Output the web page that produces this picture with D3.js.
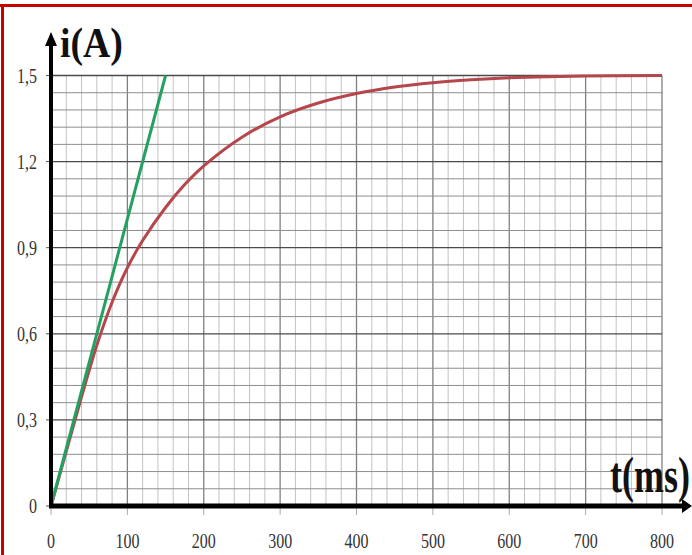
<!DOCTYPE html>
<html>
<head>
<meta charset="utf-8">
<script src="https://cdn.jsdelivr.net/npm/d3@7"></script>
<style>
  body { margin: 0; background: #fff; }
  svg { display: block; }
</style>
</head>
<body>
<div id="chart"></div>
<script>
// values
const timeMs = [0, 20, 40, 60, 80, 100, 120, 150, 175, 200, 250, 300, 350, 400, 450, 500, 550, 600, 650, 700, 800];
const current = [0, 0.19, 0.38, 0.56, 0.71, 0.83, 0.925, 1.04, 1.12, 1.185, 1.285, 1.356, 1.404, 1.437, 1.46, 1.475, 1.485, 1.492, 1.496, 1.498, 1.5];
const tangentTime = [0, 150];
const tangentCurrent = [0, 1.5];
const xTicks = [0, 100, 200, 300, 400, 500, 600, 700, 800];
const yTicks = [0, 0.3, 0.6, 0.9, 1.2, 1.5];
const yTickLabels = ["0", "0,3", "0,6", "0,9", "1,2", "1,5"];

const width = 692, height = 555;

const svg = d3.select("#chart")
    .append("svg")
    .attr("width", width)
    .attr("height", height);

const x = d3.scaleLinear().domain([0, 800]).range([51, 662]);
const y = d3.scaleLinear().domain([0, 1.5]).range([506, 75.5]);

// grid: minor every 20 ms / 0.06 A, major every 100 ms / 0.3 A
const grid = svg.append("g");
d3.range(0, 801, 20).forEach(t => {
    const major = t % 100 === 0;
    grid.append("line")
        .attr("x1", x(t)).attr("x2", x(t))
        .attr("y1", y(0)).attr("y2", y(1.5))
        .style("stroke", major ? "#808080" : "#c2c2c2")
        .style("stroke-width", major ? 1.3 : 1);
});
d3.range(0, 26).forEach(k => {
    const v = k * 0.06;
    const major = k % 5 === 0;
    grid.append("line")
        .attr("x1", x(0)).attr("x2", x(800))
        .attr("y1", y(v)).attr("y2", y(v))
        .style("stroke", major ? "#4a4a4a" : "#8e8e8e")
        .style("stroke-width", major ? 1.3 : 1);
});

// small ticks below the time axis and left of the current axis
svg.append("g").selectAll("line")
    .data(xTicks)
    .enter()
    .append("line")
    .attr("x1", d => x(d)).attr("x2", d => x(d))
    .attr("y1", y(0)).attr("y2", y(0) + 9)
    .style("stroke", "#aaa");
svg.append("g").selectAll("line")
    .data(yTicks)
    .enter()
    .append("line")
    .attr("x1", x(0) - 5).attr("x2", x(0))
    .attr("y1", d => y(d)).attr("y2", d => y(d))
    .style("stroke", "#555");

// curves
svg.append("path")
    .datum(timeMs.map((t, i) => [t, current[i]]))
    .attr("d", d3.line()
        .x(d => x(d[0]))
        .y(d => y(d[1]))
        .curve(d3.curveCatmullRom.alpha(0.5)))
    .style("fill", "none")
    .style("stroke", "#b5464b")
    .style("stroke-width", 3);

svg.append("path")
    .datum(tangentTime.map((t, i) => [t, tangentCurrent[i]]))
    .attr("d", d3.line().x(d => x(d[0])).y(d => y(d[1])))
    .style("fill", "none")
    .style("stroke", "#23a062")
    .style("stroke-width", 3);

// axes with arrows
svg.append("line")
    .attr("x1", x(0) - 2).attr("x2", 682)
    .attr("y1", y(0)).attr("y2", y(0))
    .style("stroke", "#000")
    .style("stroke-width", 5);
svg.append("path")
    .attr("d", `M682,${y(0) - 7}L692,${y(0)}L682,${y(0) + 7}Z`)
    .style("fill", "#000");

svg.append("line")
    .attr("x1", x(0)).attr("x2", x(0))
    .attr("y1", y(0)).attr("y2", 44)
    .style("stroke", "#000")
    .style("stroke-width", 4);
svg.append("path")
    .attr("d", `M${x(0) - 6},46L${x(0)},32L${x(0) + 6},46Z`)
    .style("fill", "#000");

// tick labels (narrow serif digits)
svg.append("g").selectAll("text")
    .data(xTicks)
    .enter()
    .append("text")
    .attr("transform", d => `translate(${x(d)},548) scale(0.8,1)`)
    .attr("text-anchor", "middle")
    .style("font-family", "'Liberation Serif', serif")
    .style("font-size", "20px")
    .style("fill", "#333")
    .text(d => d);

svg.append("g").selectAll("text")
    .data(yTicks)
    .enter()
    .append("text")
    .attr("transform", d => `translate(37,${y(d) + 7}) scale(0.8,1)`)
    .attr("text-anchor", "end")
    .style("font-family", "'Liberation Serif', serif")
    .style("font-size", "20px")
    .style("fill", "#333")
    .text((d, i) => yTickLabels[i]);

// axis titles
svg.append("text")
    .attr("transform", "translate(60,57) scale(0.9,1)")
    .style("font-family", "'Liberation Serif', serif")
    .style("font-weight", "bold")
    .style("font-size", "42px")
    .style("fill", "#111")
    .text("i(A)");

svg.append("text")
    .attr("transform", "translate(690,492) scale(0.72,1)")
    .attr("text-anchor", "end")
    .style("font-family", "'Liberation Serif', serif")
    .style("font-weight", "bold")
    .style("font-size", "50px")
    .style("fill", "#111")
    .text("t(ms)");

// red frame (top and left edges)
svg.append("line")
    .attr("x1", 0).attr("x2", width)
    .attr("y1", 5.5).attr("y2", 5.5)
    .style("stroke", "#c80000")
    .style("stroke-width", 3);
svg.append("line")
    .attr("x1", 2.5).attr("x2", 2.5)
    .attr("y1", 4).attr("y2", height)
    .style("stroke", "#c80000")
    .style("stroke-width", 3);
</script>
</body>
</html>
